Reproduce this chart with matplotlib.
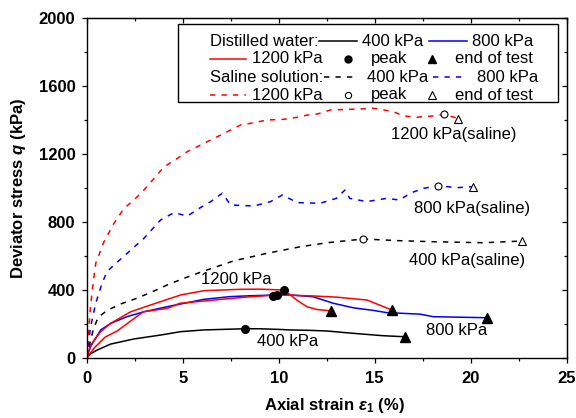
import matplotlib
matplotlib.use("Agg")
import matplotlib.pyplot as plt
from matplotlib.patches import Rectangle

plt.rcParams['font.family'] = ['Liberation Sans', 'DejaVu Sans']
plt.rcParams['mathtext.fontset'] = 'custom'
plt.rcParams['mathtext.it'] = 'Liberation Sans:italic:bold'
plt.rcParams['mathtext.rm'] = 'Liberation Sans:bold'
plt.rcParams['mathtext.bf'] = 'Liberation Sans:bold'

# ---------------- data ----------------
# Distilled water
dw400_x = [0, 0.2, 0.55, 1.25, 2.46, 3.85, 4.9, 6.1, 7.0, 8.23, 9.0, 10.07, 10.6, 11.5, 12.5, 13.9, 15.45, 16.58]
dw400_y = [0, 25, 47, 82, 112, 135, 155, 165, 168, 172, 172, 168, 165, 163, 159, 145, 131, 125]

dw800_x = [0, 0.2, 0.73, 1.25, 2.1, 2.98, 4.2, 6.1, 7.46, 8.5, 9.9, 10.6, 11.8, 12.84, 13.9, 14.93, 15.62, 17.36, 18.05, 20.83]
dw800_y = [0, 67, 165, 204, 243, 272, 302, 345, 361, 366, 371, 371, 360, 322, 295, 280, 267, 258, 243, 237]

dw1200a_x = [0, 0.2, 0.73, 1.25, 2.29, 3.33, 4.9, 6.1, 7.98, 9.0, 10.28, 10.94, 11.46, 12.0, 12.7]
dw1200a_y = [0, 76, 155, 204, 272, 312, 371, 396, 404, 405, 400, 341, 302, 285, 278]

dw1200b_x = [0, 0.4, 0.95, 1.6, 2.95, 4.2, 4.86, 6.1, 7.5, 8.5, 9.7, 10.5, 11.8, 13.0, 14.6, 15.9]
dw1200b_y = [0, 60, 122, 160, 272, 292, 322, 335, 350, 360, 369, 370, 365, 358, 341, 282]

dw_peak_x = [8.23, 9.72, 9.93, 10.28]
dw_peak_y = [172, 366, 370, 398]
dw_end_x = [16.58, 20.83, 12.7, 15.9]
dw_end_y = [125, 237, 278, 282]

# Saline solution
ss400_x = [0, 0.15, 0.35, 0.6, 1.07, 1.77, 2.46, 3.33, 4.2, 5.07, 5.94, 7.67, 9.4, 11.15, 12.53, 14.4, 16.3, 18.05, 20.66, 22.66]
ss400_y = [0, 80, 170, 240, 280, 318, 345, 385, 430, 469, 505, 572, 616, 655, 678, 700, 690, 684, 678, 688]

ss800_x = [0, 0.2, 0.47, 0.8, 1.06, 1.42, 2.11, 2.98, 3.85, 4.55, 5.24, 5.94, 6.46, 7.06, 7.5, 8.71, 9.58, 10.19,
           10.97, 12.15, 13.0, 13.45, 13.7, 14.58, 15.62, 16.3, 16.84, 17.53, 18.31, 19.27, 20.14]
ss800_y = [0, 182, 322, 440, 508, 547, 616, 704, 812, 855, 835, 886, 920, 969, 900, 894, 920, 959,
           914, 910, 939, 988, 939, 920, 939, 929, 969, 998, 1013, 1002, 1008]

ss1200_x = [0, 0.08, 0.17, 0.29, 0.47, 0.9, 1.42, 1.94, 2.46, 2.98, 3.59, 4.03, 4.55, 5.24, 5.94, 6.63, 7.32, 8.02,
            8.71, 9.4, 10.28, 10.97, 11.49, 12.0, 12.7, 14.23, 14.93, 15.27, 15.97, 16.5, 17.19, 18.05, 18.63, 19.36]
ss1200_y = [0, 130, 265, 400, 557, 684, 792, 880, 929, 988, 1067, 1125, 1161, 1214, 1253, 1292, 1331, 1371,
            1384, 1400, 1404, 1416, 1429, 1435, 1459, 1465, 1469, 1463, 1449, 1424, 1416, 1424, 1433, 1408]

ss_peak_x = [14.4, 18.31, 18.63]
ss_peak_y = [700, 1013, 1433]
ss_end_x = [22.66, 20.14, 19.36]
ss_end_y = [688, 1008, 1408]

labels_text = ['1200 kPa', '400 kPa', '800 kPa', '400 kPa(saline)', '800 kPa(saline)', '1200 kPa(saline)']
labels_x = [7.81, 10.46, 19.25, 19.79, 20.05, 19.1]
labels_y = [463, 100, 159, 576, 880, 1312]

x_ticks = [0, 5, 10, 15, 20, 25]
y_ticks = [0, 400, 800, 1200, 1600, 2000]

# ---------------- figure ----------------
W, H = 576, 418
fig = plt.figure(figsize=(W / 100, H / 100), dpi=100)
L, R, T, B = 86.7, 566.7, 18, 358
ax = fig.add_axes([L / W, 1 - B / H, (R - L) / W, (B - T) / H])

RED, BLUE, BLK = '#FF0000', '#0000FF', '#000000'
lw = 1.1
dash = (0, (3.5, 4))

ax.plot(dw400_x, dw400_y, color=BLK, lw=lw)
ax.plot(dw800_x, dw800_y, color=BLUE, lw=lw)
ax.plot(dw1200a_x, dw1200a_y, color=RED, lw=lw)
ax.plot(dw1200b_x, dw1200b_y, color=RED, lw=lw)
ax.plot(ss400_x, ss400_y, color=BLK, lw=lw, ls=dash)
ax.plot(ss800_x, ss800_y, color=BLUE, lw=lw, ls=dash)
ax.plot(ss1200_x, ss1200_y, color=RED, lw=lw, ls=dash)

ax.plot(dw_peak_x, dw_peak_y, 'o', color=BLK, ms=5.5, ls='none', zorder=5)
ax.plot(dw_end_x, dw_end_y, '^', color=BLK, ms=6.5, ls='none', zorder=5)
ax.plot(ss_peak_x, ss_peak_y, 'o', mfc='white', mec=BLK, mew=0.8, ms=5, ls='none', zorder=5)
ax.plot(ss_end_x, ss_end_y, '^', mfc='white', mec=BLK, mew=0.8, ms=6, ls='none', zorder=5)

for t, x, y in zip(labels_text, labels_x, labels_y):
    ax.text(x, y, t, fontsize=12, ha='center', va='center')

ax.set_xlim(0, 25)
ax.set_ylim(0, 2000)
ax.set_xticks(x_ticks)
ax.set_yticks(y_ticks)
ax.set_xticks([2.5, 7.5, 12.5, 17.5, 22.5], minor=True)
ax.set_yticks([200, 600, 1000, 1400, 1800], minor=True)
ax.set_xticklabels([str(v) for v in x_ticks], fontsize=12, fontweight='bold')
ax.set_yticklabels([str(v) for v in y_ticks], fontsize=12, fontweight='bold')
ax.tick_params(which='major', direction='out', length=3.6, width=0.9)
ax.tick_params(which='minor', direction='out', length=2.4, width=0.9)
ax.tick_params(axis='x', which='major', pad=6)
ax.tick_params(axis='y', which='major', pad=4.5)
for s in ax.spines.values():
    s.set_linewidth(1.0)

# mirrored ticks on top/right (inward)
axt = ax.secondary_xaxis('top')
axt.set_xticks(x_ticks)
axt.set_xticks([2.5, 7.5, 12.5, 17.5, 22.5], minor=True)
axt.tick_params(which='both', direction='in', labeltop=False)
axt.tick_params(which='major', length=3.6, width=0.9)
axt.tick_params(which='minor', length=2.4, width=0.9)
axr = ax.secondary_yaxis('right')
axr.set_yticks(y_ticks)
axr.set_yticks([200, 600, 1000, 1400, 1800], minor=True)
axr.tick_params(which='both', direction='in', labelright=False)
axr.tick_params(which='major', length=3.6, width=0.9)
axr.tick_params(which='minor', length=2.4, width=0.9)

ax.set_xlabel(r'Axial strain $\varepsilon_{\mathrm{1}}$ (%)', fontsize=12, fontweight='bold')
ax.set_ylabel(r'Deviator stress $q$ (kPa)', fontsize=12, fontweight='bold')
ax.xaxis.set_label_coords(0.517, -0.113)
ax.yaxis.set_label_coords(-0.123, 0.5)

# ---------------- legend (manual) ----------------
def P(px, py):
    return ((px - L) / (R - L), (B - py) / (B - T))

x0, y0 = P(178, 102)
x1, y1 = P(558, 24)
ax.add_patch(Rectangle((x0, y0), x1 - x0, y1 - y0, transform=ax.transAxes,
                       facecolor='white', edgecolor='black', lw=1.0, zorder=10))

def ltext(px, py, s):
    ax.text(*P(px, py), s, transform=ax.transAxes, fontsize=12, ha='left', va='center', zorder=11)

def lline(px0, px1, py, color, ls='-'):
    a = P(px0, py)
    b = P(px1, py)
    ax.plot([a[0], b[0]], [a[1], b[1]], color=color, lw=lw, ls=ls, transform=ax.transAxes,
            clip_on=False, zorder=11)

def lmark(px, py, m, filled, ms):
    kw = dict(color=BLK, ms=ms) if filled else dict(mfc='white', mec=BLK, mew=0.8, ms=ms - 0.5)
    ax.plot(*[[v] for v in P(px, py)], m, transform=ax.transAxes, clip_on=False, zorder=11, **kw)

r1, r2, r3, r4 = 41, 58.5, 77, 95
ltext(210, r1, 'Distilled water:')
lline(319, 357, r1, BLK)
ltext(362, r1, '400 kPa')
lline(429, 467, r1, BLUE)
ltext(472, r1, '800 kPa')

lline(210, 246, r2, RED)
ltext(252, r2, '1200 kPa')
lmark(348, r2, 'o', True, 5)
ltext(371, r2, 'peak')
lmark(432, r2, '^', True, 6)
ltext(455, r2, 'end of test')

ltext(210, r3, 'Saline solution:')
lline(324, 357, r3, BLK, dash)
ltext(367, r3, '400 kPa')
lline(433, 467, r3, BLUE, dash)
ltext(477, r3, '800 kPa')

lline(210, 246, r4, RED, dash)
ltext(252, r4, '1200 kPa')
lmark(348, r4, 'o', False, 5)
ltext(371, r4, 'peak')
lmark(432, r4, '^', False, 6)
ltext(455, r4, 'end of test')

fig.savefig('out.png', dpi=100)
